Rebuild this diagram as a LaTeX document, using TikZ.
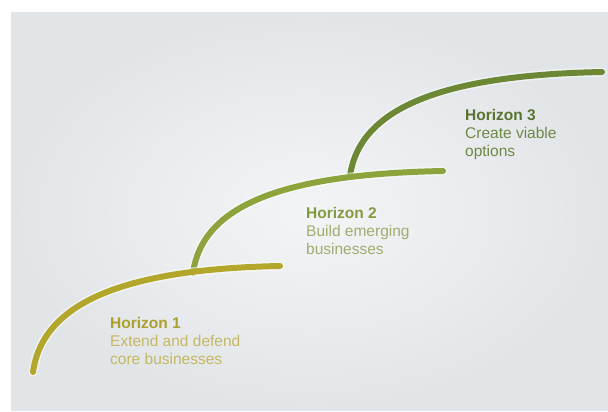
\documentclass[tikz,border=0pt]{standalone}
\usepackage{fontspec}
\setmainfont{Liberation Sans}
\usetikzlibrary{positioning}

\definecolor{bgedge}{HTML}{E2E5E8}
\definecolor{bgmid}{HTML}{F3F4F6}
\definecolor{hone}{HTML}{B2A72A}
\definecolor{htwo}{HTML}{8DA43D}
\definecolor{hthree}{HTML}{6C8835}
\definecolor{hone text}{HTML}{ACA02E}
\definecolor{hone sub}{HTML}{C4B862}
\definecolor{htwo text}{HTML}{849A40}
\definecolor{htwo sub}{HTML}{9CAF6E}
\definecolor{hthree text}{HTML}{58722F}
\definecolor{hthree sub}{HTML}{6E8845}

\begin{document}
\begin{tikzpicture}[x=1pt, y=-1pt,
    horizonline/.style={line width=6pt, line cap=round},
    halo/.style={line width=9pt, line cap=round, white, opacity=0.5},
    horizontext/.style={anchor=base west, align=left, inner sep=0pt,
        font=\fontsize{15.5}{17.8}\selectfont}]
    \useasboundingbox (0,0) rectangle (608,412);
    \shade [inner color=bgmid, outer color=bgedge] (11,13) rectangle (608,410);

    % start and end of each horizon
    \coordinate (h1s) at (33,372);
    \coordinate (h1e) at (280,266);
    \coordinate (h2s) at (193,273);
    \coordinate (h2e) at (443,171);
    \coordinate (h3s) at (350,176);
    \coordinate (h3e) at (602,72);

    \draw [halo] (h3s) .. controls +(10,-72) and +(-150,3) .. (h3e);
    \draw [horizonline, hthree] (h3s) .. controls +(10,-72) and +(-150,3) .. (h3e);
    \draw [halo] (h2s) .. controls +(10,-72) and +(-150,3) .. (h2e);
    \draw [horizonline, htwo] (h2s) .. controls +(10,-72) and +(-150,3) .. (h2e);
    \draw [halo] (h1s) .. controls +(10,-72) and +(-150,3) .. (h1e);
    \draw [horizonline, hone] (h1s) .. controls +(10,-72) and +(-150,3) .. (h1e);

    % anchor sits on the last line
    \node [horizontext, text=hone text] (t1) at (110,364)
        {\textbf{Horizon 1}\\ \textcolor{hone sub}{Extend and defend}\\ \textcolor{hone sub}{core businesses}};
    \node [horizontext, text=htwo text] (t2) at (306,254)
        {\textbf{Horizon 2}\\ \textcolor{htwo sub}{Build emerging}\\ \textcolor{htwo sub}{businesses}};
    \node [horizontext, text=hthree text] (t3) at (465,156)
        {\textbf{Horizon 3}\\ \textcolor{hthree sub}{Create viable}\\ \textcolor{hthree sub}{options}};
\end{tikzpicture}
\end{document}
